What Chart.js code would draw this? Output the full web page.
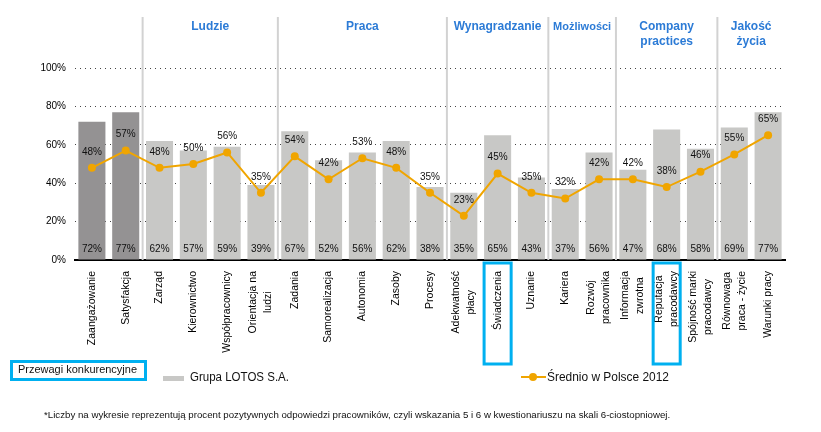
<!DOCTYPE html>
<html lang="pl">
<head>
    <meta charset="UTF-8" />
    <title>Przewagi konkurencyjne - Grupa LOTOS S.A.</title>
    <script src="https://cdn.jsdelivr.net/npm/chart.js"></script>
    <style>
        html, body { margin: 0; padding: 0; background: #fff; }
        #wrap { width: 821px; height: 432px; }
    </style>
</head>
<body>
    <div id="wrap"><canvas id="chart" width="821" height="432"></canvas></div>

    <script>
        // categories (multi-line labels as arrays)
        const categories = [
            ['Zaangażowanie'], ['Satysfakcja'],
            ['Zarząd'], ['Kierownictwo'], ['Współpracownicy'], ['Orientacja na', 'ludzi'],
            ['Zadania'], ['Samorealizacja'], ['Autonomia'], ['Zasoby'], ['Procesy'],
            ['Adekwatność', 'płacy'], ['Świadczenia'], ['Uznanie'],
            ['Kariera'], ['Rozwój', 'pracownika'],
            ['Informacja', 'zwrotna'], ['Reputacja', 'pracodawcy'], ['Spójność marki', 'pracodawcy'],
            ['Równowaga', 'praca - życie'], ['Warunki pracy']
        ];
        const lotosValues = [72, 77, 62, 57, 59, 39, 67, 52, 56, 62, 38, 35, 65, 43, 37, 56, 47, 68, 58, 69, 77];
        const polandAvg = [48, 57, 48, 50, 56, 35, 54, 42, 53, 48, 35, 23, 45, 35, 32, 42, 42, 38, 46, 55, 65];

        const groupNames = [[], ['Ludzie'], ['Praca'], ['Wynagradzanie'], ['Możliwości'], ['Company', 'practices'], ['Jakość', 'życia']];
        const groupSizes = [2, 4, 5, 3, 2, 3, 2];
        const highlighted = [12, 17]; // Świadczenia, Reputacja pracodawcy
        const yTicks = [0, 20, 40, 60, 80, 100];

        const BAR_DARK = '#949293';
        const BAR_LIGHT = '#c8c8c6';
        const ORANGE = '#f0a500';
        const BLUE = '#2c7bd6';
        const CYAN = '#00b0f0';
        const FONT = '"Liberation Sans", Arial, sans-serif';

        const barColors = lotosValues.map((v, i) => i < 2 ? BAR_DARK : BAR_LIGHT);

        // separators + group titles
        const groupsPlugin = {
            id: 'groups',
            beforeDatasetsDraw(chart) {
                const { ctx, chartArea, scales: { x } } = chart;
                const half = (x.getPixelForValue(1) - x.getPixelForValue(0)) / 2;
                let start = 0;
                ctx.save();
                groupSizes.forEach((size, g) => {
                    const left = x.getPixelForValue(start) - half;
                    const right = x.getPixelForValue(start + size - 1) + half;
                    if (g > 0) {
                        ctx.strokeStyle = '#d2d2d2';
                        ctx.lineWidth = 2;
                        ctx.beginPath();
                        ctx.moveTo(left, 17);
                        ctx.lineTo(left, chartArea.bottom);
                        ctx.stroke();
                    }
                    const name = groupNames[g];
                    ctx.fillStyle = BLUE;
                    ctx.textAlign = 'center';
                    ctx.textBaseline = 'middle';
                    ctx.font = 'bold ' + (name[0] === 'Możliwości' ? 11 : 12) + 'px ' + FONT;
                    name.forEach((line, j) => ctx.fillText(line, (left + right) / 2, 27 + j * 15));
                    start += size;
                });
                ctx.restore();
            }
        };

        // value labels, x labels, highlight boxes, legend, footnote
        const labelsPlugin = {
            id: 'labels',
            afterDatasetsDraw(chart) {
                const { ctx, chartArea, scales: { x } } = chart;
                ctx.save();
                ctx.fillStyle = '#111';
                ctx.font = '10px ' + FONT;
                ctx.textAlign = 'center';
                ctx.textBaseline = 'middle';

                chart.getDatasetMeta(1).data.forEach((bar, i) => {
                    ctx.fillText(lotosValues[i] + '%', bar.x, chartArea.bottom - 11);
                });
                chart.getDatasetMeta(0).data.forEach((pt, i) => {
                    ctx.fillText(polandAvg[i] + '%', pt.x, pt.y - 16);
                });

                // rotated category labels
                ctx.fillStyle = '#000';
                ctx.font = '10.5px ' + FONT;
                categories.forEach((lines, i) => {
                    const cx = x.getPixelForValue(i);
                    const widths = lines.map(l => ctx.measureText(l).width);
                    const maxW = Math.max(...widths);
                    ctx.save();
                    ctx.translate(cx, chartArea.bottom + 11);
                    ctx.rotate(-Math.PI / 2);
                    ctx.textAlign = 'right';
                    lines.forEach((l, j) => {
                        const off = (j - (lines.length - 1) / 2) * 15;
                        ctx.fillText(l, -(maxW - widths[j]) / 2, off);
                    });
                    ctx.restore();
                });

                // highlight boxes around selected categories
                const bw = chart.getDatasetMeta(1).data[0].width;
                ctx.strokeStyle = CYAN;
                ctx.lineWidth = 3;
                highlighted.forEach(i => {
                    const cx = x.getPixelForValue(i);
                    ctx.strokeRect(cx - bw / 2, chartArea.bottom + 3, bw, 101);
                });

                // legend
                ctx.strokeRect(11.5, 361.5, 134, 18);
                ctx.textAlign = 'left';
                ctx.font = '11px ' + FONT;
                ctx.fillStyle = '#111';
                ctx.fillText('Przewagi konkurencyjne', 18, 370, 119);

                ctx.fillStyle = BAR_LIGHT;
                ctx.fillRect(163, 376, 21, 5);
                ctx.fillStyle = '#111';
                ctx.font = '12px ' + FONT;
                ctx.fillText('Grupa LOTOS S.A.', 190, 378, 99);

                ctx.strokeStyle = ORANGE;
                ctx.lineWidth = 2;
                ctx.beginPath();
                ctx.moveTo(521, 377);
                ctx.lineTo(546, 377);
                ctx.stroke();
                ctx.fillStyle = ORANGE;
                ctx.beginPath();
                ctx.arc(533, 377, 4, 0, Math.PI * 2);
                ctx.fill();
                ctx.fillStyle = '#111';
                ctx.fillText('Średnio w Polsce 2012', 547, 378, 122);

                // footnote
                ctx.font = '9.7px ' + FONT;
                ctx.fillText('*Liczby na wykresie reprezentują procent pozytywnych odpowiedzi pracowników, czyli wskazania 5 i 6 w kwestionariuszu na skali 6-ciostopniowej.', 44, 415, 627);
                ctx.restore();
            }
        };

        new Chart(document.getElementById('chart'), {
            type: 'bar',
            data: {
                labels: categories,
                datasets: [
                    {
                        type: 'line',
                        label: 'Średnio w Polsce 2012',
                        data: polandAvg,
                        borderColor: ORANGE,
                        backgroundColor: ORANGE,
                        borderWidth: 2,
                        pointRadius: 4,
                        pointBackgroundColor: ORANGE,
                        pointBorderWidth: 0,
                        tension: 0,
                        order: 0
                    },
                    {
                        label: 'Grupa LOTOS S.A.',
                        data: lotosValues,
                        backgroundColor: barColors,
                        barPercentage: 0.8,
                        categoryPercentage: 1,
                        order: 1
                    }
                ]
            },
            options: {
                responsive: false,
                animation: false,
                layout: { padding: { top: 68, right: 36, left: 0, bottom: 0 } },
                plugins: {
                    legend: { display: false },
                    tooltip: { enabled: false }
                },
                scales: {
                    x: {
                        grid: { display: false },
                        border: { color: '#000', width: 2 },
                        ticks: { display: false },
                        afterFit(scale) { scale.height = 172; }
                    },
                    y: {
                        min: 0,
                        max: 100,
                        afterBuildTicks(scale) { scale.ticks = yTicks.map(v => ({ value: v })); },
                        ticks: {
                            padding: 9,
                            color: '#000',
                            font: { size: 10, family: FONT },
                            callback: v => v + '%'
                        },
                        grid: {
                            drawTicks: false,
                            color: ctx => ctx.tick && ctx.tick.value === 0 ? 'rgba(0,0,0,0)' : '#444',
                            lineWidth: 1
                        },
                        border: { display: false, dash: [1, 4] },
                        afterFit(scale) { scale.width = 75; }
                    }
                }
            },
            plugins: [groupsPlugin, labelsPlugin]
        });
    </script>
</body>
</html>
